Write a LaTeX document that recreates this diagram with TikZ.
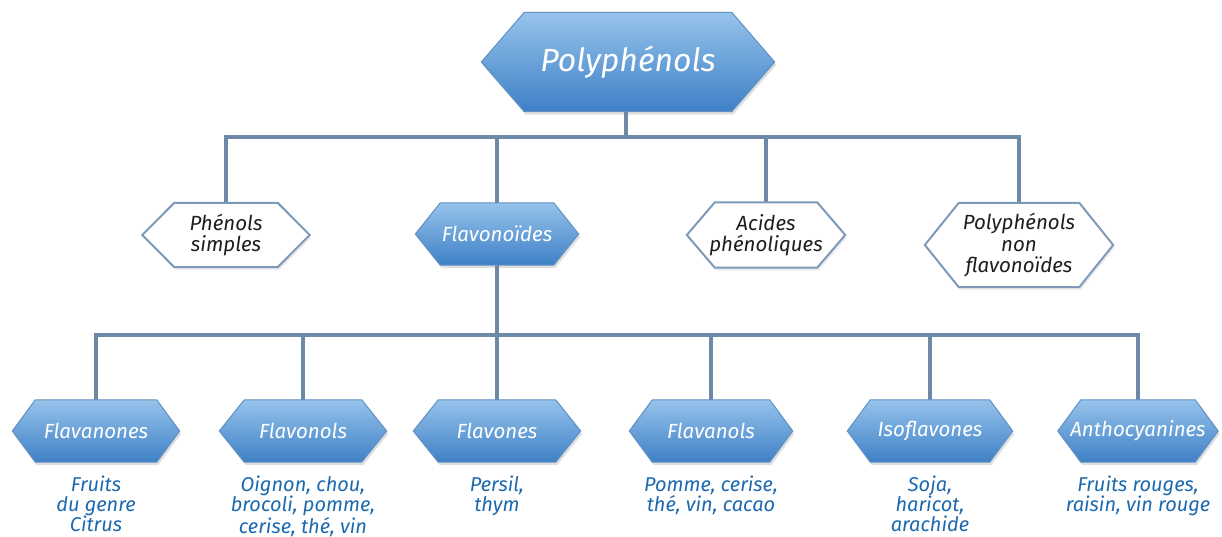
\documentclass[tikz,border=0pt]{standalone}
\usepackage{fontspec}
\setmainfont{Fira Sans}
\usetikzlibrary{backgrounds,shadows}
\definecolor{hexTop}{RGB}{150,195,235}
\definecolor{hexBot}{RGB}{62,128,198}
\definecolor{hexLine}{RGB}{95,145,195}
\definecolor{connCol}{RGB}{108,138,168}
\definecolor{whiteLine}{RGB}{125,155,185}
\definecolor{srcCol}{RGB}{28,105,175}
\definecolor{darkTxt}{RGB}{30,30,30}
\newcommand\hexshape[3]{%
  \path[#3] (#1.west) -- ([xshift=#2pt]#1.north west) -- ([xshift=-#2pt]#1.north east)
    -- (#1.east) -- ([xshift=-#2pt]#1.south east) -- ([xshift=#2pt]#1.south west) -- cycle;}
\begin{document}
\begin{tikzpicture}[x=1pt,y=-1pt,
  box/.style={inner sep=0pt, align=center, font=\fontsize{20.5}{21.5}\selectfont\itshape},
  bluebox/.style={box, text=white},
  whitebox/.style={box, text=darkTxt},
  src/.style={inner sep=0pt, align=center, anchor=north, text=srcCol,
    font=\fontsize{20}{20}\selectfont\itshape},
  bluehex/.style={top color=hexTop, bottom color=hexBot, draw=hexLine, line width=1pt,
    drop shadow={shadow xshift=1.5pt, shadow yshift=-3pt, opacity=.25}},
  whitehex/.style={fill=white, draw=whiteLine, line width=2pt,
    drop shadow={shadow xshift=1.5pt, shadow yshift=-3pt, opacity=.15}},
  conn/.style={draw=connCol, line width=3.5pt}]
\useasboundingbox (0,0) rectangle (1222,537);

% level 1
\node[bluebox, minimum width=293pt, minimum height=99pt,
  font=\fontsize{32}{34}\selectfont\itshape] (poly) at (628,62) {Polyphénols};

% level 2
\node[whitebox, minimum width=167pt, minimum height=64pt] (ps) at (226,235) {Phénols\\simples};
\node[bluebox, minimum width=163pt, minimum height=62pt] (fl) at (497,234) {Flavonoïdes};
\node[whitebox, minimum width=158pt, minimum height=65pt] (ac) at (766,235) {Acides\\phénoliques};
\node[whitebox, minimum width=188pt, minimum height=84pt] (pn) at (1019,245) {Polyphénols\\non\\flavonoïdes};

% level 3
\node[bluebox, minimum width=167pt, minimum height=62pt] (fa) at (96,431) {Flavanones};
\node[bluebox, minimum width=167pt, minimum height=62pt] (fo) at (303,431) {Flavonols};
\node[bluebox, minimum width=167pt, minimum height=62pt] (fe) at (497,431) {Flavones};
\node[bluebox, minimum width=163pt, minimum height=62pt] (fn) at (711,431) {Flavanols};
\node[bluebox, minimum width=165pt, minimum height=62pt] (is) at (930,431) {Isoflavones};
\node[bluebox, minimum width=160pt, minimum height=62pt] (an) at (1138,431) {Anthocyanines};

% sources
\node[src] (sfa) at (96,476) {Fruits\\du genre\\Citrus};
\node[src] (sfo) at (303,476) {Oignon, chou,\\brocoli, pomme,\\cerise, thé, vin};
\node[src] (sfe) at (497,476) {Persil,\\thym};
\node[src] (sfn) at (711,476) {Pomme, cerise,\\thé, vin, cacao};
\node[src] (sis) at (930,476) {Soja,\\haricot,\\arachide};
\node[src] (san) at (1138,476) {Fruits rouges,\\raisin, vin rouge};

\coordinate (j1) at (626,137);
\coordinate (j2) at (497,335);

\begin{pgfonlayer}{background}
  % connectors
  \draw[conn] (poly.south -| j1) -- (j1);
  \draw[conn] (ps.north) |- (j1) -| (pn.north);
  \draw[conn] (fl.north) -- (fl.north |- j1);
  \draw[conn] (ac.north) -- (ac.north |- j1);
  \draw[conn] (fl.south) -- (j2);
  \draw[conn] (fa.north) |- (j2) -| (an.north);
  \draw[conn] (fo.north) -- (fo.north |- j2);
  \draw[conn] (fe.north) -- (fe.north |- j2);
  \draw[conn] (fn.north) -- (fn.north |- j2);
  \draw[conn] (is.north) -- (is.north |- j2);
  % hexagons
  \hexshape{poly}{43}{bluehex}
  \hexshape{ps}{32}{whitehex}
  \hexshape{fl}{25}{bluehex}
  \hexshape{ac}{28}{whitehex}
  \hexshape{pn}{34}{whitehex}
  \hexshape{fa}{23}{bluehex}
  \hexshape{fo}{25}{bluehex}
  \hexshape{fe}{25}{bluehex}
  \hexshape{fn}{23}{bluehex}
  \hexshape{is}{23}{bluehex}
  \hexshape{an}{23}{bluehex}
\end{pgfonlayer}
\end{tikzpicture}
\end{document}
